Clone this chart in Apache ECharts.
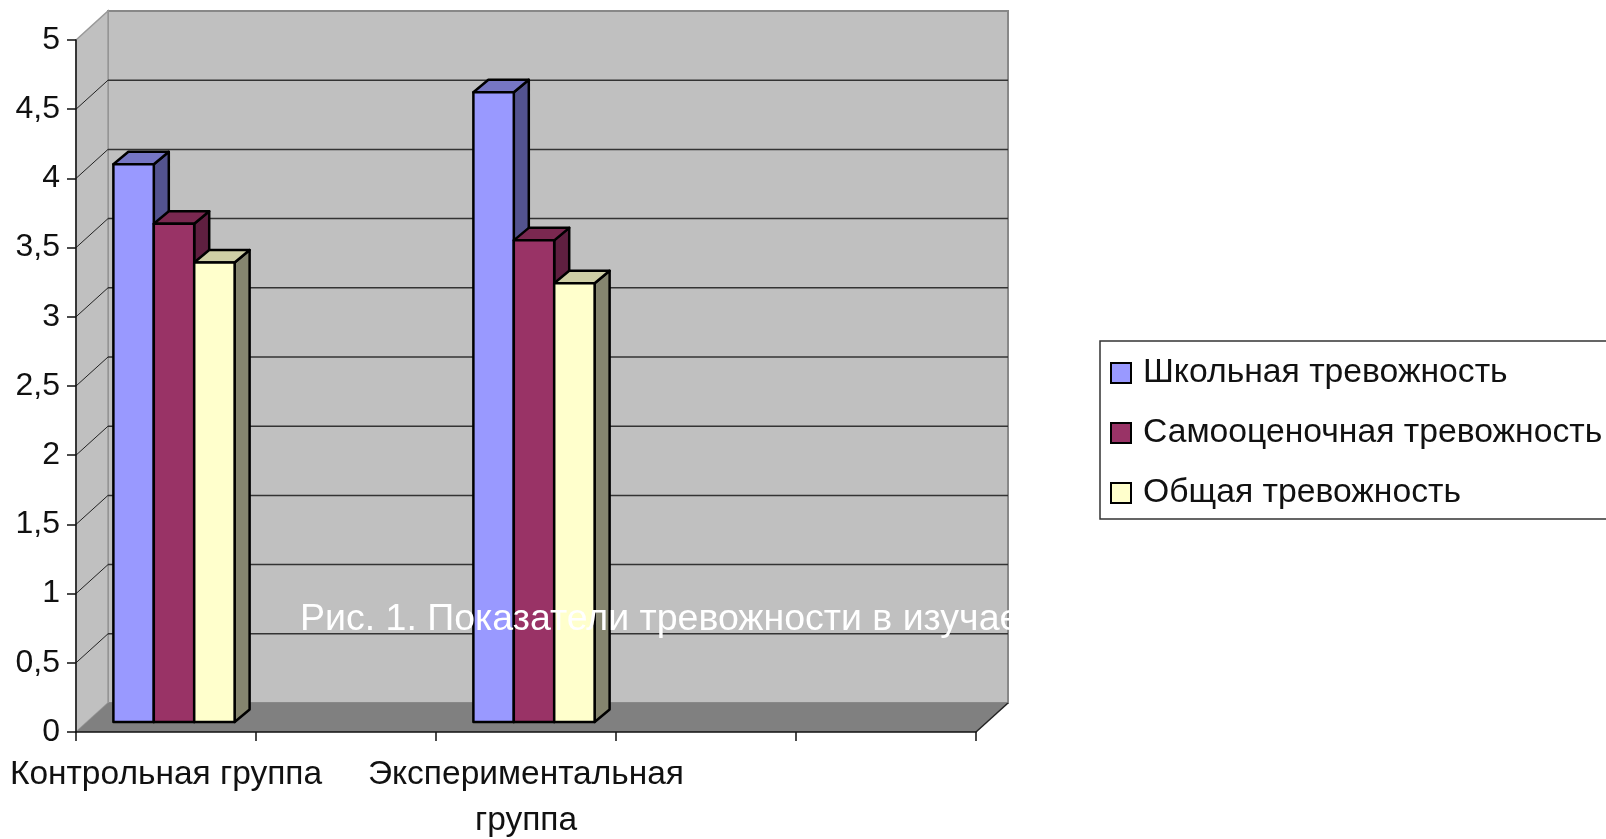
<!DOCTYPE html>
<html><head><meta charset="utf-8">
<style>html,body{margin:0;padding:0;background:#fff;overflow:hidden}#c{width:1606px;height:839px}</style>
<script src="https://cdn.jsdelivr.net/npm/echarts@6/dist/echarts.min.js"></script>
</head><body><div id="c"></div>
<script>
const categories = ['Контрольная группа', '', 'Экспериментальная\nгруппа', '', ''];
const groupIndex = [0, 2];
const schoolAnxiety = [4.03, 4.55];
const selfAnxiety = [3.6, 3.48];
const totalAnxiety = [3.32, 3.17];
const seriesNames = ['Школьная тревожность', 'Самооценочная тревожность', 'Общая тревожность'];
const tickValues = [0.5, 1, 1.5, 2, 2.5, 3, 3.5, 4, 4.5, 5];
const captionText = 'Рис. 1. Показатели тревожности в изучае';

const FONT = '"Liberation Sans", Arial, sans-serif';
const WALL = { dx: 32, dy: -29 };
const BAR_SHIFT = { dx: 8, dy: -10 };
const DEPTH = { dx: 15, dy: -12.5 };
const FACE = [
  { front: '#9999FF', side: '#53538F', top: '#7676C4' },
  { front: '#993366', side: '#5F1F40', top: '#7A2850' },
  { front: '#FFFFCC', side: '#85856F', top: '#CFCFA6' }
];
const BAR_FRACTION = 0.2245;

function cuboid(idx) {
  return function (params, api) {
    const cat = api.value(0), val = api.value(1);
    const band = api.size([1, 0])[0];
    const w = band * BAR_FRACTION;
    const c = api.coord([cat, val]);
    const b = api.coord([cat, 0]);
    const x0 = c[0] + BAR_SHIFT.dx + (idx - 1.5) * w;
    const x1 = x0 + w;
    const yT = c[1] + BAR_SHIFT.dy, yB = b[1] + BAR_SHIFT.dy;
    const f = FACE[idx];
    const stroke = { stroke: '#000', lineWidth: 2.5, lineJoin: 'round' };
    return { type: 'group', children: [
      { type: 'polygon', shape: { points: [[x1, yT], [x1 + DEPTH.dx, yT + DEPTH.dy], [x1 + DEPTH.dx, yB + DEPTH.dy], [x1, yB]] }, style: Object.assign({ fill: f.side }, stroke) },
      { type: 'polygon', shape: { points: [[x0, yT], [x0 + DEPTH.dx, yT + DEPTH.dy], [x1 + DEPTH.dx, yT + DEPTH.dy], [x1, yT]] }, style: Object.assign({ fill: f.top }, stroke) },
      { type: 'rect', shape: { x: x0, y: yT, width: w, height: yB - yT }, style: Object.assign({ fill: f.front }, stroke) }
    ] };
  };
}

function frame(params, api) {
  const g = params.coordSys;
  const L = g.x, R = g.x + g.width, B = g.y + g.height;
  const T = g.y;
  const d = WALL;
  return { type: 'group', children: [
    { type: 'polygon', shape: { points: [[L + d.dx, T + d.dy], [R + d.dx, T + d.dy], [R + d.dx, B + d.dy], [L + d.dx, B + d.dy]] }, style: { fill: '#C0C0C0', stroke: '#888', lineWidth: 2 } },
    { type: 'polygon', shape: { points: [[L, T], [L + d.dx, T + d.dy], [L + d.dx, B + d.dy], [L, B]] }, style: { fill: '#C0C0C0', stroke: '#999', lineWidth: 1.5 } },
    { type: 'polygon', shape: { points: [[L, B], [R, B], [R + d.dx, B + d.dy], [L + d.dx, B + d.dy]] }, style: { fill: '#808080' } },
    { type: 'line', shape: { x1: R, y1: B, x2: R + d.dx, y2: B + d.dy }, style: { stroke: '#222', lineWidth: 1.5 } }
  ] };
}

function gridLine(params, api) {
  const g = params.coordSys;
  const y = api.coord([0, api.value(0)])[1];
  const L = g.x, R = g.x + g.width;
  const d = WALL;
  const isTop = api.value(0) === 5;
  return { type: 'group', children: isTop ? [] : [
    { type: 'line', shape: { x1: L, y1: y, x2: L + d.dx, y2: y + d.dy }, style: { stroke: '#222', lineWidth: 1 } },
    { type: 'line', shape: { x1: L + d.dx, y1: y + d.dy, x2: R + d.dx, y2: y + d.dy }, style: { stroke: '#333', lineWidth: 1.5 } }
  ] };
}

const chart = echarts.init(document.getElementById('c'), null, { renderer: 'canvas' });
const group = arr => arr.map((v, k) => [groupIndex[k], v]);
chart.setOption({
  animation: false,
  backgroundColor: '#fff',
  grid: { left: 76, top: 40, width: 900, height: 692, containLabel: false, outerBoundsMode: 'none' },
  legend: {
    data: seriesNames, orient: 'vertical', left: 1100, top: 341,
    padding: [15, 40, 9, 10], itemWidth: 20, itemHeight: 20, itemGap: 26,
    backgroundColor: '#fff', borderColor: '#333', borderWidth: 1.5,
    textStyle: { fontFamily: FONT, fontSize: 33.7, color: '#111', padding: [0, 0, 0, 7] },
    icon: 'rect', selectedMode: false
  },
  xAxis: {
    type: 'category', data: categories, z: 5,
    axisLine: { lineStyle: { color: '#111', width: 1.5 } },
    axisTick: { show: true, length: 9, lineStyle: { color: '#111', width: 1.5 }, alignWithLabel: false },
    axisLabel: { interval: 0, fontFamily: FONT, fontSize: 33.5, color: '#111', lineHeight: 46, margin: 20 }
  },
  yAxis: {
    type: 'value', min: 0, max: 5, interval: 0.5, z: 5,
    axisLine: { show: true, lineStyle: { color: '#111', width: 1.5 } },
    axisTick: { show: true, length: 9, lineStyle: { color: '#111', width: 1.5 } },
    axisLabel: { fontFamily: FONT, fontSize: 32, color: '#111', margin: 16, formatter: v => String(v).replace('.', ',') },
    splitLine: { show: false }
  },
  series: [
    { type: 'custom', silent: true, z: 1, renderItem: frame, data: [[0]], clip: false, encode: { x: -1, y: -1 } },
    { type: 'custom', silent: true, z: 2, renderItem: gridLine, data: tickValues.map(v => [v]), clip: false, encode: { x: -1, y: 0 } },
    { type: 'custom', name: seriesNames[0], z: 3, renderItem: cuboid(0), clip: false, itemStyle: { color: FACE[0].front, borderColor: '#000', borderWidth: 2 }, data: group(schoolAnxiety), encode: { x: 0, y: 1 } },
    { type: 'custom', name: seriesNames[1], z: 4, renderItem: cuboid(1), clip: false, itemStyle: { color: FACE[1].front, borderColor: '#000', borderWidth: 2 }, data: group(selfAnxiety), encode: { x: 0, y: 1 } },
    { type: 'custom', name: seriesNames[2], z: 5, renderItem: cuboid(2), clip: false, itemStyle: { color: FACE[2].front, borderColor: '#000', borderWidth: 2 }, data: group(totalAnxiety), encode: { x: 0, y: 1 } }
  ],
  graphic: [
    { type: 'text', z: 100, left: 300, top: 601, silent: true, style: { text: captionText, fontFamily: FONT, fontSize: 37.5, fill: '#fff' } }
  ]
});
</script></body></html>
